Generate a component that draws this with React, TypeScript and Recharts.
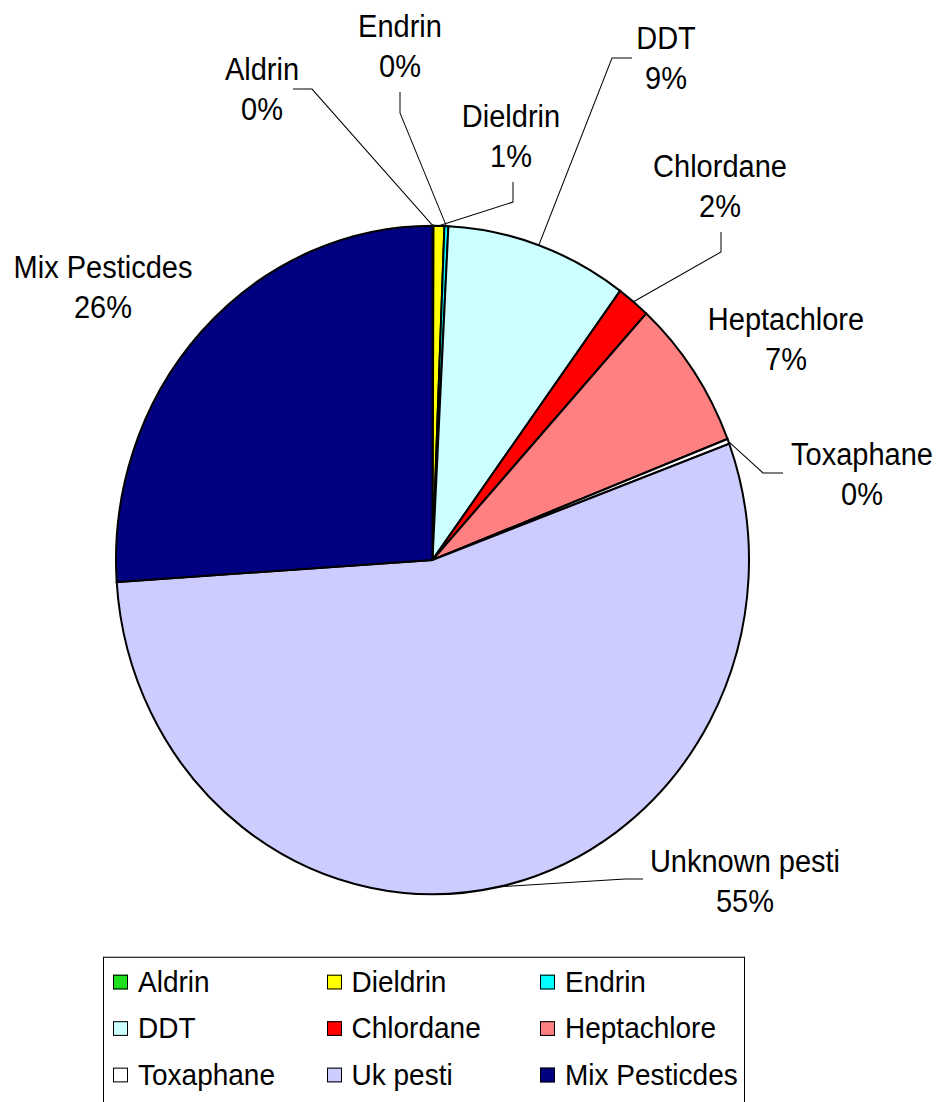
import { PieChart, Pie, Cell, Legend } from "recharts"

const FONT = "'Liberation Sans', Arial, sans-serif"

// share of each pesticide group, clockwise from 12 o'clock
const labelNames = ["Aldrin", "Dieldrin", "Endrin", "DDT", "Chlordane", "Heptachlore", "Toxaphane", "Unknown pesti", "Mix Pesticdes"]
const legendNames = ["Aldrin", "Dieldrin", "Endrin", "DDT", "Chlordane", "Heptachlore", "Toxaphane", "Uk pesti", "Mix Pesticdes"]
const shares = [0.05, 0.55, 0.2, 9.3, 1.7, 7.3, 0.25, 54.6, 26.05]
const sliceColors = ["#1EE01E", "#FFFF00", "#00FFFF", "#CCFFFF", "#FF0000", "#FF8080", "#FFFFFF", "#CCCCFF", "#000080"]

// label text position and leader elbow/end, as offsets from the pie centre
const labelSpots: { text: [number, number]; leader?: [number, number][] }[] = [
  { text: [-170.5, -454.5], leader: [[-120.5, -446], [-139.5, -446]] },
  { text: [78.5, -410], leader: [[80.5, -339], [80.5, -358]] },
  { text: [-32.5, -495.3], leader: [[-32.5, -423.3], [-32.5, -443.2]] },
  { text: [233.5, -483.9], leader: [[179.5, -475.4], [199.5, -475.4]] },
  { text: [287.5, -362.7], leader: [[288.5, -291.7], [288.5, -310.6]] },
  { text: [353.5, -217.8] },
  { text: [429.5, -90], leader: [[330.5, -82.4], [350.5, -82.4]] },
  { text: [312.5, 295.5], leader: [[192.5, 302.1], [210.5, 302.1]] },
  { text: [-329.5, -267] },
]

const data = shares.map((value, i) => ({ legendName: legendNames[i], value }))

const renderLabel = (props: any) => {
  const { cx, cy, percent, index } = props
  const spot = labelSpots[index]
  const x = cx + spot.text[0]
  const y = cy + spot.text[1]
  return (
    <text x={x} y={y} textAnchor="middle" fontSize={29} fill="#000" fontFamily={FONT}>
      <tspan x={x} y={y}>{labelNames[index]}</tspan>
      <tspan x={x} y={y + 38}>{`${Math.round(percent * 100)}%`}</tspan>
    </text>
  )
}

const renderLeader = (props: any) => {
  const { cx, cy, midAngle, outerRadius, index } = props
  const spot = labelSpots[index]
  if (!spot.leader) return <g />
  const rad = (-midAngle * Math.PI) / 180
  const start = [cx + outerRadius * Math.cos(rad), cy + outerRadius * Math.sin(rad)]
  const pts = [start, ...spot.leader.map(([dx, dy]) => [cx + dx, cy + dy])]
  return <polyline points={pts.map((p) => p.join(",")).join(" ")} fill="none" stroke="#000" strokeWidth={1} />
}

const renderLegend = (props: any) => {
  // keep the slice order instead of the legend's alphabetical sort
  const items = [...(props.payload ?? [])].sort(
    (a: any, b: any) => legendNames.indexOf(a.value) - legendNames.indexOf(b.value)
  )
  return (
    <div
      style={{
        width: 642,
        height: 150,
        border: "1px solid #000",
        boxSizing: "border-box",
        position: "relative",
        background: "#fff",
        fontFamily: FONT,
        fontSize: 28,
        color: "#000",
      }}
    >
      {items.map((item: any, i: number) => (
        <div
          key={i}
          style={{
            position: "absolute",
            left: 9 + (i % 3) * 213.5,
            top: 7 + Math.floor(i / 3) * 44,
            height: 32,
            display: "flex",
            alignItems: "center",
            whiteSpace: "nowrap",
          }}
        >
          <span
            style={{
              display: "inline-block",
              width: 13,
              height: 12,
              border: "1px solid #000",
              background: sliceColors[legendNames.indexOf(item.value)] ?? item.color,
              marginRight: 10,
            }}
          />
          <span>{item.value}</span>
        </div>
      ))}
    </div>
  )
}

export default function App() {
  return (
    <div
      style={{
        position: "absolute",
        left: 0,
        top: 0,
        width: 943,
        height: 1046,
        background: "#fff",
        transform: "scaleY(1.056)",
        transformOrigin: "0 0",
      }}
    >
      <PieChart width={943} height={1046} margin={{ top: 0, right: 0, bottom: 0, left: 0 }}>
        <Pie
          data={data}
          dataKey="value"
          nameKey="legendName"
          cx={432.5}
          cy={530.3}
          outerRadius={316.5}
          startAngle={90}
          endAngle={-270}
          stroke="#000"
          strokeWidth={2}
          label={renderLabel}
          labelLine={renderLeader}
          isAnimationActive={false}
        >
          {data.map((_, i) => (
            <Cell key={i} fill={sliceColors[i]} />
          ))}
        </Pie>
        <Legend content={renderLegend} wrapperStyle={{ left: 103, top: 906, width: 642, height: 150 }} />
      </PieChart>
    </div>
  )
}
